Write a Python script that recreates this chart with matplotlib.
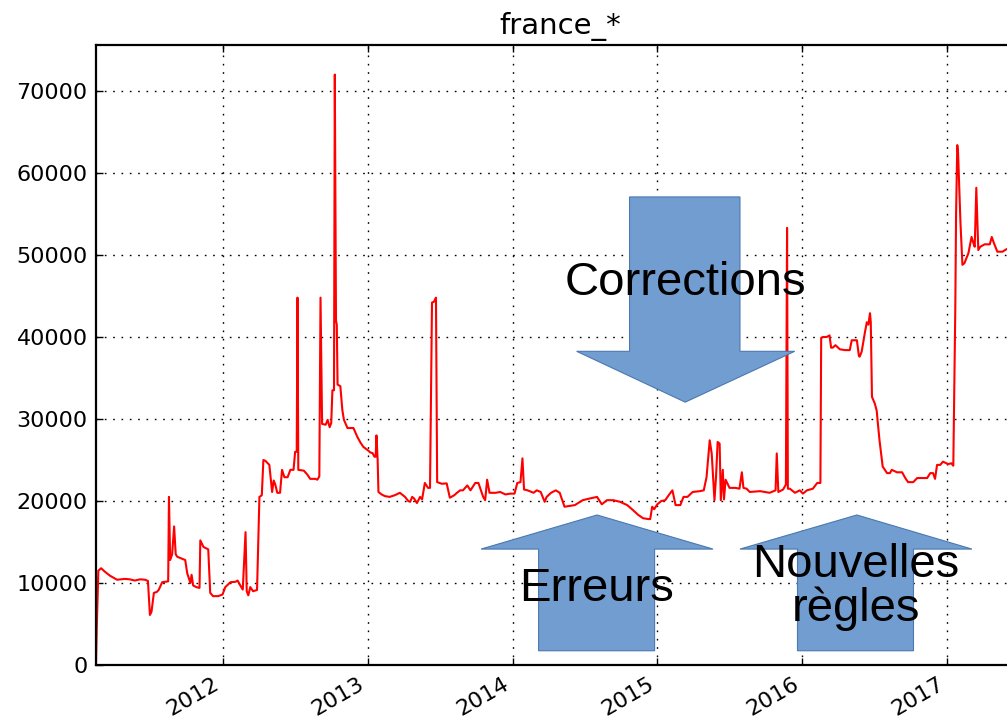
import matplotlib
matplotlib.use("Agg")
import numpy as np
import pandas as pd
import matplotlib.pyplot as plt
import matplotlib.dates as mdates
from matplotlib.patches import Polygon

# nombre d'objets france_*
dates = [
    "2011-02-16", "2011-02-18", "2011-02-22", "2011-03-01", "2011-03-10", "2011-03-23",
    "2011-04-10", "2011-04-30", "2011-05-12", "2011-05-25", "2011-06-07", "2011-06-20",
    "2011-06-27", "2011-07-02", "2011-07-06", "2011-07-12", "2011-07-19", "2011-07-24",
    "2011-08-02", "2011-08-17", "2011-08-19", "2011-08-22", "2011-08-27", "2011-09-01",
    "2011-09-05", "2011-09-09", "2011-09-19", "2011-09-29", "2011-10-04", "2011-10-12",
    "2011-10-15", "2011-10-19", "2011-10-27", "2011-11-04", "2011-11-06", "2011-11-14",
    "2011-11-26", "2011-12-01", "2011-12-08", "2011-12-21",
    "2012-01-01", "2012-01-08", "2012-01-21", "2012-02-03", "2012-02-08", "2012-02-16",
    "2012-02-21", "2012-02-28", "2012-03-02", "2012-03-06", "2012-03-11", "2012-03-18",
    "2012-03-28", "2012-04-03", "2012-04-09", "2012-04-13", "2012-04-18", "2012-04-28",
    "2012-05-05", "2012-05-09", "2012-05-13", "2012-05-18", "2012-05-25", "2012-05-30",
    "2012-06-05", "2012-06-13", "2012-06-20", "2012-06-28", "2012-07-02", "2012-07-06",
    "2012-07-08", "2012-07-10", "2012-07-24", "2012-08-02", "2012-08-09", "2012-08-22",
    "2012-08-27", "2012-09-01", "2012-09-04", "2012-09-08", "2012-09-17", "2012-09-22",
    "2012-09-27", "2012-10-01", "2012-10-04", "2012-10-08", "2012-10-10", "2012-10-13",
    "2012-10-15", "2012-10-17", "2012-10-24", "2012-10-29", "2012-11-02", "2012-11-11",
    "2012-11-26", "2012-12-06", "2012-12-14", "2012-12-21",
    "2013-01-01", "2013-01-08", "2013-01-13", "2013-01-18", "2013-01-21", "2013-01-23",
    "2013-01-26", "2013-01-28", "2013-02-05", "2013-02-13", "2013-02-25", "2013-03-10",
    "2013-03-23", "2013-04-05", "2013-04-13", "2013-04-18", "2013-04-23", "2013-04-28",
    "2013-05-05", "2013-05-13", "2013-05-18", "2013-05-25", "2013-06-02", "2013-06-07",
    "2013-06-12", "2013-06-17", "2013-06-22", "2013-06-25", "2013-07-07", "2013-07-19",
    "2013-07-27", "2013-08-07", "2013-08-14", "2013-08-22", "2013-08-29", "2013-09-09",
    "2013-09-17", "2013-09-29", "2013-10-07", "2013-10-19", "2013-10-24", "2013-10-29",
    "2013-11-04", "2013-11-19", "2013-12-01", "2013-12-14", "2013-12-26",
    "2014-01-06", "2014-01-13", "2014-01-21", "2014-01-26", "2014-01-30", "2014-02-08",
    "2014-02-23", "2014-03-03", "2014-03-13", "2014-03-23", "2014-03-28", "2014-04-08",
    "2014-04-20", "2014-04-30", "2014-05-12", "2014-05-25", "2014-06-07", "2014-06-27",
    "2014-07-14", "2014-08-02", "2014-08-14", "2014-08-27", "2014-09-12", "2014-09-29",
    "2014-10-17", "2014-10-29", "2014-11-14", "2014-11-26", "2014-12-09", "2014-12-14",
    "2014-12-19", "2014-12-24",
    "2015-01-01", "2015-01-11", "2015-01-21", "2015-01-31", "2015-02-08", "2015-02-16",
    "2015-02-28", "2015-03-08", "2015-03-18", "2015-03-31", "2015-04-18", "2015-04-28",
    "2015-05-05", "2015-05-13", "2015-05-18", "2015-05-25", "2015-05-29", "2015-06-02",
    "2015-06-07", "2015-06-10", "2015-06-15", "2015-06-18", "2015-06-22", "2015-07-02",
    "2015-07-17", "2015-07-27", "2015-08-02", "2015-08-06", "2015-08-14", "2015-08-22",
    "2015-09-17", "2015-10-11", "2015-10-26", "2015-10-29", "2015-11-02", "2015-11-14",
    "2015-11-21", "2015-11-24", "2015-11-26", "2015-12-01", "2015-12-14", "2015-12-26",
    "2016-01-03", "2016-01-13", "2016-01-28", "2016-02-08", "2016-02-16", "2016-02-18",
    "2016-02-23", "2016-03-03", "2016-03-10", "2016-03-14", "2016-03-18", "2016-03-25",
    "2016-04-05", "2016-04-18", "2016-04-30", "2016-05-05", "2016-05-18", "2016-05-23",
    "2016-05-25", "2016-05-30", "2016-06-07", "2016-06-12", "2016-06-16", "2016-06-20",
    "2016-06-22", "2016-06-25", "2016-07-02", "2016-07-07", "2016-07-09", "2016-07-14",
    "2016-07-22", "2016-08-02", "2016-08-09", "2016-08-14", "2016-08-27", "2016-09-09",
    "2016-09-17", "2016-09-24", "2016-10-07", "2016-10-17", "2016-10-29", "2016-11-11",
    "2016-11-19", "2016-11-26", "2016-12-01", "2016-12-06", "2016-12-14", "2016-12-21",
    "2017-01-03", "2017-01-11", "2017-01-16", "2017-01-21", "2017-01-23", "2017-01-26",
    "2017-01-28", "2017-02-03", "2017-02-08", "2017-02-13", "2017-02-23", "2017-03-03",
    "2017-03-08", "2017-03-11", "2017-03-15", "2017-03-20", "2017-03-25", "2017-04-05",
    "2017-04-18", "2017-04-23", "2017-04-28", "2017-05-07", "2017-05-20", "2017-05-30",
    "2017-06-12",
]
values = [
    0, 4600, 11500, 11800, 11400, 10900,
    10400, 10500, 10450, 10300, 10450, 10400,
    10250, 6100, 6500, 8800, 8900, 9150,
    10100, 10200, 20500, 12800, 13500, 16900,
    13500, 13200, 13000, 12800, 11200, 10000,
    11000, 9700, 9500, 9400, 15200, 14400,
    14100, 8800, 8400, 8400,
    8600, 9500, 10100, 10150, 10300, 9600,
    9200, 16200, 9000, 8500, 9500, 9000,
    9150, 20500, 20700, 25000, 24900, 24400,
    21100, 22500, 22000, 21000, 21000, 23800,
    22900, 22900, 23800, 23800, 26000, 26000,
    44800, 23800, 23700, 23200, 22700, 22700,
    22600, 23000, 44800, 29400, 29300, 29900,
    29000, 29500, 33500, 33500, 72000, 42000,
    41500, 34200, 34000, 31100, 29900, 28900,
    28900, 27800, 27100, 26600,
    26200, 25900, 25850, 25400, 25400, 28000,
    25000, 21100, 20800, 20600, 20500, 20700,
    21000, 20500, 20000, 19900, 20500, 20300,
    19750, 20500, 20200, 22200, 21600, 21600,
    44200, 44300, 44800, 22300, 22100, 22150,
    20400, 20700, 21000, 21300, 21300, 21900,
    21300, 22200, 22200, 20500, 20100, 22600,
    21000, 21000, 21100, 20800, 20900,
    20900, 22200, 22300, 25200, 21400, 21300,
    21000, 21300, 21100, 19900, 20500, 21000,
    21300, 21000, 19300, 19400, 19500, 20100,
    20300, 20500, 19600, 20100, 20100, 19900,
    19500, 19000, 18300, 17900, 17800, 17800,
    19300, 19000,
    19600, 20000, 20100, 20800, 21300, 19500,
    19500, 20500, 20500, 21100, 21200, 21300,
    22900, 27400, 25800, 20100, 23000, 27200,
    27000, 20100, 23800, 20200, 22600, 21600,
    21600, 21500, 23500, 21600, 21500, 21100,
    21200, 21000, 21300, 25800, 21100, 21400,
    22000, 53300, 21500, 21500, 21000, 21300,
    20900, 21300, 21500, 22200, 22200, 39900,
    40000, 40000, 40200, 38700, 38700, 39000,
    38500, 38400, 38400, 39600, 39600, 37700,
    37600, 38200, 40500, 41800, 41500, 42900,
    41800, 32700, 31900, 31000, 29900, 27400,
    24200, 23400, 23400, 23800, 23500, 23500,
    22800, 22300, 22300, 22800, 22800, 22800,
    23400, 23400, 22700, 24400, 24400, 24800,
    24500, 24600, 24300, 43300, 55000, 63400,
    62500, 54000, 48800, 49000, 50200, 52200,
    51400, 51000, 58200, 50600, 51000, 51300,
    51300, 52200, 51500, 50400, 50400, 50700,
    51000,
]

# fleches bleues ajoutees par-dessus (coordonnees en fraction d'axes)
arrow_corrections = [(0.575, 0.755), (0.694, 0.755), (0.694, 0.506), (0.753, 0.506),
                     (0.635, 0.424), (0.518, 0.506), (0.575, 0.506)]
arrow_erreurs = [(0.540, 0.242), (0.665, 0.187), (0.602, 0.187), (0.602, 0.023),
                 (0.477, 0.023), (0.477, 0.187), (0.415, 0.187)]
arrow_regles = [(0.820, 0.242), (0.944, 0.187), (0.881, 0.187), (0.881, 0.023),
                (0.756, 0.023), (0.756, 0.187), (0.694, 0.187)]

x = pd.to_datetime(dates)
y = np.array(values)

fig = plt.figure(figsize=(10.07, 7.23), dpi=100)
fig.patch.set_facecolor("white")
# l'axe depasse a droite : le bord droit de l'image coupe le graphique
ax = fig.add_axes([0.0953, 0.0802, 0.9215, 0.8575])
ax.plot(x, y, color="red", lw=1.5, zorder=2)

ax.set_xlim(pd.Timestamp("2011-02-16"), pd.Timestamp("2017-07-13"))
ax.set_ylim(0, 75600)
ax.set_yticks(np.arange(0, 70001, 10000))
ax.xaxis.set_major_locator(mdates.YearLocator())
ax.xaxis.set_major_formatter(mdates.DateFormatter("%Y"))
ax.tick_params(direction="in", top=True, right=True, length=5, width=1,
               labelsize=16, pad=6)
for lab in ax.get_xticklabels():
    lab.set_rotation(30)
    lab.set_ha("right")
ax.grid(True, color="black", linestyle=(0, (1.2, 4.8)), linewidth=1.0)
for sp in ax.spines.values():
    sp.set_linewidth(1.6)
ax.set_title("france_*", fontsize=21, pad=8)

for pts in (arrow_corrections, arrow_erreurs, arrow_regles):
    ax.add_patch(Polygon(pts, closed=True, transform=ax.transAxes,
                         facecolor="#729dd0", edgecolor="#4a78b0", lw=0.8,
                         zorder=3, clip_on=False))

txt = dict(transform=ax.transAxes, ha="center", va="center", fontsize=34,
           family="Liberation Sans", color="black", zorder=4)
ax.text(0.635, 0.616, "Corrections", **txt)
ax.text(0.540, 0.122, "Erreurs", **txt)
ax.text(0.819, 0.126, "Nouvelles\nrègles", linespacing=1.0, **txt)

fig.savefig("out.png", dpi=100, facecolor="white")
